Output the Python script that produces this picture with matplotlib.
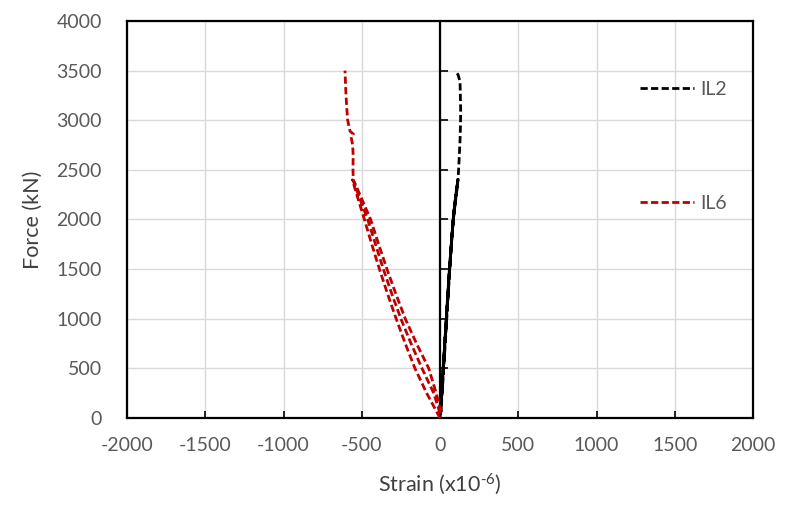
import matplotlib
matplotlib.use("Agg")
import matplotlib.pyplot as plt

plt.rcParams['font.family'] = ['Lato', 'DejaVu Sans']
plt.rcParams['mathtext.fontset'] = 'custom'
plt.rcParams['mathtext.rm'] = 'Lato'
plt.rcParams['mathtext.it'] = 'Lato'
plt.rcParams['axes.unicode_minus'] = False

# IL2 (black) - loading path with reload cycles
il2_strain = [0, 10, 20, 30, 40, 50, 60, 72, 85, 100, 115,
              105, 82, 58, 38, 18, 4,
              2, 22, 42, 62, 86, 112,
              108, 86, 64, 44, 26, 8,
              6, 16, 34, 52, 70, 90, 116, 122, 128, 131, 132, 130, 128, 115, 96]
il2_force = [0, 250, 500, 750, 1000, 1250, 1500, 1750, 2000, 2200, 2400,
             2300, 1950, 1450, 950, 450, 80,
             30, 520, 1020, 1520, 2020, 2350,
             2330, 2050, 1550, 1080, 620, 150,
             60, 300, 760, 1230, 1700, 2100, 2420, 2600, 2800, 2950, 3100, 3250, 3390, 3460, 3500]

# IL6 (red) - loading, unloading, reloading and final loading
il6_strain = [0, -85, -160, -222, -280, -335, -387, -436, -483, -522, -560,
              -548, -498, -443, -392, -339, -282, -222, -150, -72, -30, 8,
              2, -40, -115, -185, -250, -308, -362, -412, -462, -510, -554,
              -556, -555, -558, -568, -553, -575, -590, -597, -602, -607]
il6_force = [0, 250, 500, 750, 1000, 1250, 1500, 1750, 2000, 2200, 2400,
             2380, 2200, 2000, 1750, 1500, 1250, 1000, 750, 500, 280, 60,
             40, 250, 500, 750, 1000, 1250, 1500, 1750, 2000, 2200, 2390,
             2500, 2650, 2750, 2830, 2860, 2890, 3000, 3150, 3300, 3500]

x_ticks = [-2000, -1500, -1000, -500, 0, 500, 1000, 1500, 2000]
y_ticks = [0, 500, 1000, 1500, 2000, 2500, 3000, 3500, 4000]

gray = '#595959'
red = '#C00000'

fig = plt.figure(figsize=(7.87, 5.05), dpi=100)
ax = fig.add_axes([127/787, 1-418/505, 626/787, 397/505])

ax.set_xlim(-2000, 2000)
ax.set_ylim(0, 4000)
ax.set_xticks(x_ticks)
ax.set_yticks(y_ticks)
ax.grid(True, color='#d9d9d9', lw=1.0, zorder=0)
ax.set_axisbelow(True)

for s in ax.spines.values():
    s.set_color('black')
    s.set_linewidth(1.6)

ax.tick_params(axis='x', direction='in', length=5, width=1.2, color='black',
               labelsize=14, labelcolor=gray, pad=14)
ax.tick_params(axis='y', length=0, labelsize=14, labelcolor=gray, pad=18)

# vertical axis at x = 0 with ticks
ax.axvline(0, color='black', lw=1.6, zorder=3)
ax.plot([0]*len(y_ticks), y_ticks, ls='none', marker=1, markersize=6,
        markeredgewidth=1.2, color='black', zorder=3, clip_on=False)

ax.plot(il2_strain, il2_force, color='black', lw=2.0, ls=(0, (2.6, 1.2)),
        label='IL2', zorder=4)
ax.plot(il6_strain, il6_force, color=red, lw=2.0, ls=(0, (2.6, 1.2)),
        label='IL6', zorder=4)

leg = ax.legend(loc='upper left', bbox_to_anchor=((640-127)/626, 1-(81-21)/397),
                frameon=False, fontsize=14, labelspacing=5.0, handlelength=2.8,
                handletextpad=0.3, borderpad=0, borderaxespad=0)
for t in leg.get_texts():
    t.set_color(gray)

ax.set_xlabel(r'Strain (x10$^{\text{-6}}$)', fontsize=15.5, color='#404040', labelpad=12)
ax.set_ylabel('Force (kN)', fontsize=15.5, color='#404040', labelpad=10)

fig.savefig('out.png', dpi=100)
